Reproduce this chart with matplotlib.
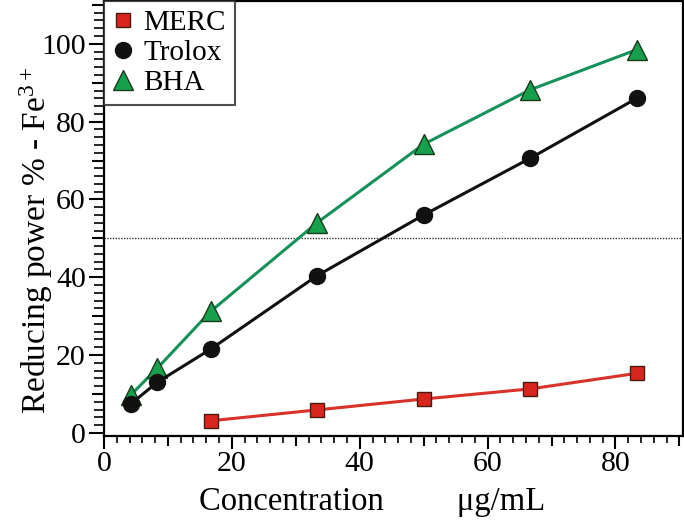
import matplotlib
matplotlib.use("Agg")
import matplotlib.pyplot as plt
from matplotlib.ticker import MultipleLocator, FuncFormatter

conc_merc = [16.67, 33.33, 50.0, 66.67, 83.33]
merc = [3.1, 5.9, 8.7, 11.3, 15.3]
conc_std = [4.17, 8.33, 16.67, 33.33, 50.0, 66.67, 83.33]
trolox = [7.4, 13.0, 21.5, 40.4, 56.0, 70.6, 86.0]
bha = [9.7, 16.6, 31.2, 54.0, 74.2, 88.2, 98.5]
ref_line = 50

plt.rcParams['font.family'] = ['Liberation Serif', 'DejaVu Serif']
plt.rcParams['mathtext.fontset'] = 'custom'
plt.rcParams['mathtext.rm'] = 'Liberation Serif'
plt.rcParams['mathtext.default'] = 'regular'

fig = plt.figure(figsize=(6.84, 5.24), dpi=100)
ax = fig.add_axes([0.152, 0.168, 0.846, 0.830])

ax.axhline(ref_line, color='#333333', lw=1.0, ls=(0, (1, 1)), zorder=1)
ax.plot(conc_std, bha, color='#16915a', lw=2.2, marker='^', ms=14,
        mfc='#16a04e', mec='#1a3a1a', mew=1.0, label='BHA', zorder=3)
ax.plot(conc_std, trolox, color='#111111', lw=2.2, marker='o', ms=11.5,
        mfc='#111111', mec='#111111', label='Trolox', zorder=3)
ax.plot(conc_merc, merc, color='#d8322a', lw=2.2, marker='s', ms=10,
        mfc='#d8261e', mec='#4a1a10', mew=1.0, label='MERC', zorder=3)

ax.set_xlim(0, 90.5)
ax.set_ylim(-0.8, 111)
fmt = FuncFormatter(lambda v, p: '%d' % round(v) if round(v) % 20 == 0 else '')
ax.xaxis.set_major_locator(MultipleLocator(10))
ax.xaxis.set_minor_locator(MultipleLocator(2))
ax.yaxis.set_major_locator(MultipleLocator(10))
ax.yaxis.set_minor_locator(MultipleLocator(2))
ax.xaxis.set_major_formatter(fmt)
ax.yaxis.set_major_formatter(fmt)
ax.tick_params(axis='both', which='major', direction='out', width=1.5, labelsize=21.5, pad=2)
ax.tick_params(axis='x', which='major', length=9)
ax.tick_params(axis='y', which='major', length=11)
ax.tick_params(axis='x', which='minor', direction='out', length=5, width=1.2)
ax.tick_params(axis='y', which='minor', direction='out', length=7, width=1.2)
for s in ax.spines.values():
    s.set_linewidth(1.6)

# medium ticks at odd multiples of 10
for axis, medium in ((ax.xaxis, 7), (ax.yaxis, 9)):
    locs = axis.get_majorticklocs()
    ticks = axis.get_major_ticks(len(locs))
    for loc, t in zip(locs, ticks):
        if round(loc) % 20 != 0:
            t.tick1line.set_markersize(medium)

ax.set_xlabel('Concentration         \u03bcg/mL', fontsize=23.5)
ax.set_ylabel('Reducing power % - Fe$^{3+}$', fontsize=24)
ax.xaxis.set_label_coords(0.463, -0.117)
ax.yaxis.set_label_coords(-0.085, 0.45)

handles, labels = ax.get_legend_handles_labels()
order = [2, 1, 0]
leg = ax.legend([handles[i] for i in order], [labels[i] for i in order],
                loc='upper left', frameon=True, fancybox=False, fontsize=21,
                handlelength=0.7, handletextpad=0.35, borderpad=0.3,
                labelspacing=0.12, borderaxespad=0.0)
leg.get_frame().set_edgecolor('#222222')
leg.get_frame().set_linewidth(1.5)
for h in leg.legend_handles:
    h.set_linestyle('None')

fig.savefig('out.png', dpi=100)
